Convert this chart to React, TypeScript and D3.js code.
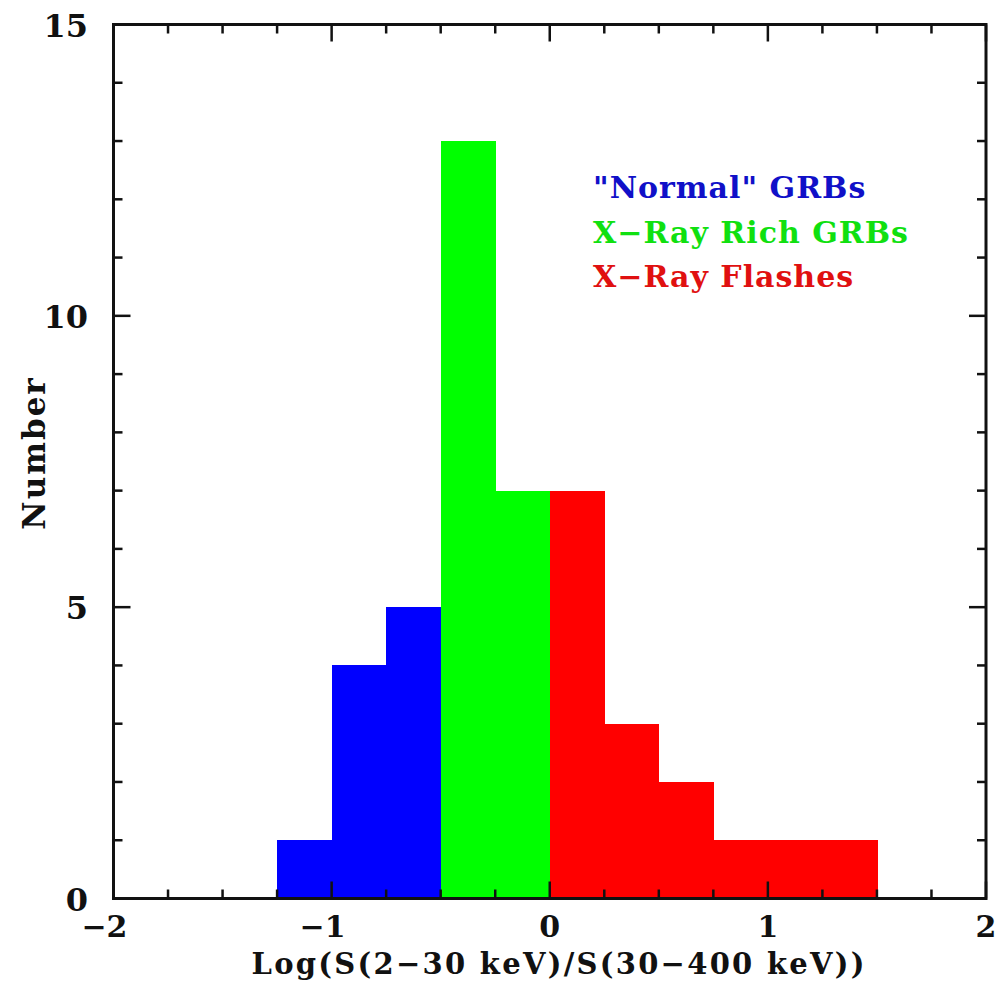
import React from "react";
import * as d3 from "d3";

// histogram bins (left edge, width 0.25) and counts
const binStarts = [-1.25, -1.0, -0.75, -0.5, -0.25, 0.0, 0.25, 0.5, 0.75, 1.0, 1.25];
const counts = [1, 4, 5, 13, 7, 7, 3, 2, 1, 1, 1];
const classes = ["normal", "normal", "normal", "rich", "rich", "xrf", "xrf", "xrf", "xrf", "xrf", "xrf"];
const binWidth = 0.25;

const legendLabels = ['"Normal" GRBs', "X-Ray Rich GRBs", "X-Ray Flashes"];
const legendKeys = ["normal", "rich", "xrf"];
const colors: Record<string, string> = { normal: "#0000ff", rich: "#00ff00", xrf: "#ff0000" };
const legendColors: Record<string, string> = { normal: "#1010c8", rich: "#10e010", xrf: "#e01010" };

const xMajor = [-2, -1, 0, 1, 2];
const yMajor = [0, 5, 10, 15];

const App = () => {
  const width = 996;
  const height = 985;
  const left = 113.5, right = 986, top = 24.5, bottom = 898.5;

  const x = d3.scaleLinear().domain([-2, 2]).range([left, right]);
  const y = d3.scaleLinear().domain([0, 15]).range([bottom, top]);

  const xMinor = d3.range(-2, 2.001, 0.25).filter((v) => Math.abs(v - Math.round(v)) > 1e-6);
  const yMinor = d3.range(0, 15.001, 1).filter((v) => v % 5 !== 0);

  const font = "'DejaVu Serif', serif";
  const minorLen = 9;
  const majorLen = 17;

  return (
    <svg width={width} height={height} style={{ position: "absolute", left: 0, top: 0, background: "#fff" }}>
      {/* bars */}
      <g shapeRendering="crispEdges">
        {binStarts.map((b, i) => (
          <rect
            key={i}
            x={x(b)}
            y={y(counts[i])}
            width={x(b + binWidth) - x(b) + 0.6}
            height={y(0) - y(counts[i])}
            fill={colors[classes[i]]}
          />
        ))}
      </g>

      {/* ticks on all sides */}
      <g stroke="#111" strokeWidth={2.5}>
        {xMinor.map((v) => (
          <g key={"xm" + v}>
            <line x1={x(v)} x2={x(v)} y1={bottom} y2={bottom - minorLen} />
            <line x1={x(v)} x2={x(v)} y1={top} y2={top + minorLen} />
          </g>
        ))}
        {xMajor.map((v) => (
          <g key={"xM" + v}>
            <line x1={x(v)} x2={x(v)} y1={bottom} y2={bottom - majorLen} />
            <line x1={x(v)} x2={x(v)} y1={top} y2={top + majorLen} />
          </g>
        ))}
        {yMinor.map((v) => (
          <g key={"ym" + v}>
            <line x1={left} x2={left + minorLen} y1={y(v)} y2={y(v)} />
            <line x1={right} x2={right - minorLen} y1={y(v)} y2={y(v)} />
          </g>
        ))}
        {yMajor.map((v) => (
          <g key={"yM" + v}>
            <line x1={left} x2={left + majorLen} y1={y(v)} y2={y(v)} />
            <line x1={right} x2={right - majorLen} y1={y(v)} y2={y(v)} />
          </g>
        ))}
      </g>

      {/* frame */}
      <rect x={left} y={top} width={right - left} height={bottom - top} fill="none" stroke="#111" strokeWidth={3} />

      {/* tick labels */}
      <g fontFamily={font} fontWeight="bold" fill="#111">
        {xMajor.map((v) => (
          <text key={"xl" + v} x={x(v) - (v < 0 ? 9 : 0)} y={937} textAnchor="middle" fontSize={30}>
            {v < 0 ? "\u2212" + Math.abs(v) : v}
          </text>
        ))}
        {yMajor.map((v) => (
          <text key={"yl" + v} x={88} y={y(v) + 12} textAnchor="end" fontSize={32}>
            {v}
          </text>
        ))}
      </g>

      {/* axis titles */}
      <text
        x={558}
        y={974}
        textAnchor="middle"
        fontFamily={font}
        fontWeight="bold"
        fontSize={29}
        fill="#111"
        textLength={613}
        lengthAdjust="spacing"
      >
        Log(S(2{"\u2212"}30 keV)/S(30{"\u2212"}400 keV))
      </text>
      <text
        transform={`translate(45,453) rotate(-90)`}
        textAnchor="middle"
        fontFamily={font}
        fontWeight="bold"
        fontSize={31}
        fill="#111"
        letterSpacing={2}
      >
        Number
      </text>

      {/* legend */}
      <g fontFamily={font} fontWeight="bold" fontSize={30}>
        {legendLabels.map((t, i) => (
          <text
            key={t}
            x={593}
            y={198 + i * 44.5}
            fill={legendColors[legendKeys[i]]}
            letterSpacing={1}
          >
            {t.replace("-", "\u2212")}
          </text>
        ))}
      </g>
    </svg>
  );
};

export default App;
